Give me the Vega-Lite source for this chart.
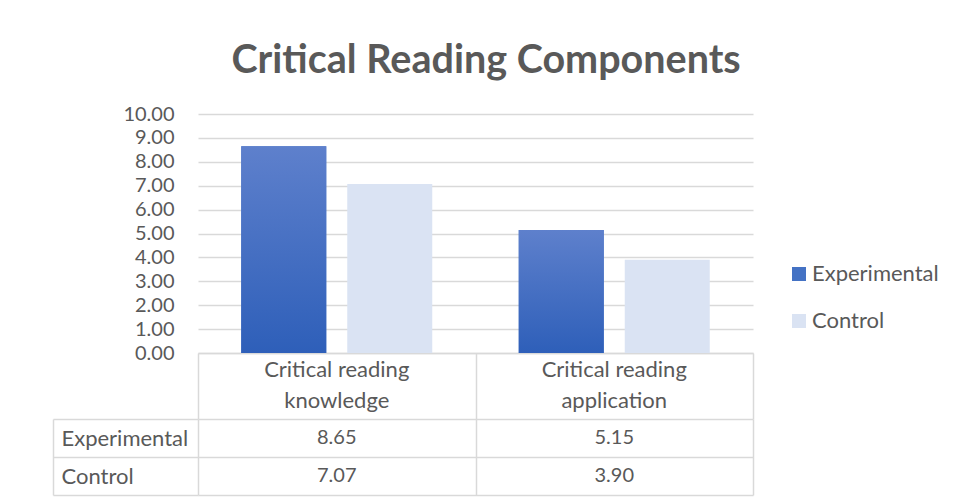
{
  "$schema": "https://vega.github.io/schema/vega-lite/v6.json",
  "background": "white",
  "padding": {"left": 52, "top": 40, "right": 12, "bottom": 8},
  "data": {"values": [
    {"component": "Critical reading knowledge", "header": "Critical reading\nknowledge", "group": "Experimental", "value": 8.65},
    {"component": "Critical reading knowledge", "header": "Critical reading\nknowledge", "group": "Control", "value": 7.07},
    {"component": "Critical reading application", "header": "Critical reading\napplication", "group": "Experimental", "value": 5.15},
    {"component": "Critical reading application", "header": "Critical reading\napplication", "group": "Control", "value": 3.90}
  ]},
  "title": {"text": "Critical Reading Components", "anchor": "middle", "dx": -9.5, "fontSize": 39.5, "font": "Lato", "fontWeight": "bold", "color": "#595959", "offset": 23},
  "config": {"font": "Lato", "view": {"stroke": null}, "axis": {"labelFont": "Lato", "labelColor": "#595959", "labelFontSize": 20}},
  "bounds": "flush",
  "spacing": 0,
  "vconcat": [
    {
      "width": 555,
      "height": 239,
      "layer": [
        {
          "mark": {"type": "bar"},
          "encoding": {
            "x": {"field": "component", "type": "nominal", "sort": ["Critical reading knowledge", "Critical reading application"],
              "scale": {"paddingInner": 0, "paddingOuter": 0},
              "axis": {"title": null, "domain": true, "domainColor": "#d9d9d9", "domainWidth": 1.5, "ticks": false, "labels": false, "grid": false}},
            "xOffset": {"field": "group", "type": "nominal", "sort": ["Experimental", "Control"], "scale": {"domain": ["Experimental", "Control"], "paddingInner": 0.198, "paddingOuter": 0.408}},
            "y": {"field": "value", "type": "quantitative", "scale": {"domain": [0, 10]},
              "axis": {"title": null, "values": [0, 1, 2, 3, 4, 5, 6, 7, 8, 9, 10], "tickCount": 12, "labelOverlap": false, "format": ".2f", "domain": false, "ticks": false, "tickSize": 0, "labelPadding": 24, "gridColor": "#d9d9d9", "gridWidth": 1.5}},
            "color": {"field": "group", "type": "nominal", "sort": ["Experimental", "Control"],
              "scale": {"domain": ["Experimental", "Control"], "range": ["#4472C4", "#DAE3F3"]},
              "legend": {"title": null, "orient": "none", "legendX": 590, "legendY": 149, "symbolType": "square", "symbolSize": 196, "labelFontSize": 22, "labelColor": "#595959", "labelFont": "Lato", "rowPadding": 25, "labelOffset": 2, "symbolStrokeWidth": 0}}
          }
        },
        {
          "transform": [{"filter": "datum.group == 'Experimental'"}],
          "mark": {"type": "bar", "color": {"gradient": "linear", "x1": 0, "y1": 0, "x2": 0, "y2": 1, "stops": [{"offset": 0, "color": "#5E80CC"}, {"offset": 1, "color": "#2E5FB9"}]}},
          "encoding": {
            "x": {"field": "component", "type": "nominal", "sort": ["Critical reading knowledge", "Critical reading application"],
              "axis": {"title": null, "domain": true, "domainColor": "#d9d9d9", "domainWidth": 1.5, "ticks": false, "labels": false, "grid": false}},
            "xOffset": {"field": "group", "type": "nominal", "sort": ["Experimental", "Control"], "scale": {"domain": ["Experimental", "Control"]}},
            "y": {"field": "value", "type": "quantitative",
              "axis": {"title": null, "values": [0, 1, 2, 3, 4, 5, 6, 7, 8, 9, 10], "tickCount": 12, "labelOverlap": false, "format": ".2f", "domain": false, "ticks": false, "tickSize": 0, "labelPadding": 24, "gridColor": "#d9d9d9", "gridWidth": 1.5}}
          }
        }
      ]
    },
    {
      "width": 555,
      "height": 66,
      "transform": [{"filter": "datum.group == 'Experimental'"}],
      "mark": {"type": "text", "fontSize": 22, "color": "#595959", "font": "Lato", "lineBreak": "\n", "lineHeight": 31, "dy": -16},
      "encoding": {
        "x": {"field": "component", "type": "nominal", "sort": ["Critical reading knowledge", "Critical reading application"],
          "scale": {"paddingInner": 0, "paddingOuter": 0},
          "axis": {"title": null, "labels": false, "ticks": false, "domain": false, "grid": true, "tickBand": "extent", "gridColor": "#d9d9d9", "gridWidth": 1.5}},
        "text": {"field": "header", "type": "nominal"}
      }
    },
    {
      "width": 555,
      "height": 76,
      "mark": {"type": "text", "fontSize": 20, "color": "#595959", "font": "Lato"},
      "encoding": {
        "x": {"field": "component", "type": "nominal", "sort": ["Critical reading knowledge", "Critical reading application"],
          "scale": {"paddingInner": 0, "paddingOuter": 0},
          "axis": {"title": null, "labels": false, "ticks": false, "domain": false, "grid": true, "tickBand": "extent", "gridColor": "#d9d9d9", "gridWidth": 1.5}},
        "y": {"field": "group", "type": "nominal", "sort": ["Experimental", "Control"],
          "scale": {"paddingInner": 0, "paddingOuter": 0},
          "axis": {"title": null, "grid": true, "tickBand": "extent", "gridColor": "#d9d9d9", "gridWidth": 1.5, "domain": true, "domainColor": "#d9d9d9", "domainWidth": 1.5, "ticks": true, "tickSize": -145, "tickColor": "#d9d9d9", "tickWidth": 1.5, "offset": 145, "labelAlign": "left", "labelPadding": 137, "labelFontSize": 22}},
        "text": {"field": "value", "type": "quantitative", "format": ".2f"}
      }
    }
  ]
}
